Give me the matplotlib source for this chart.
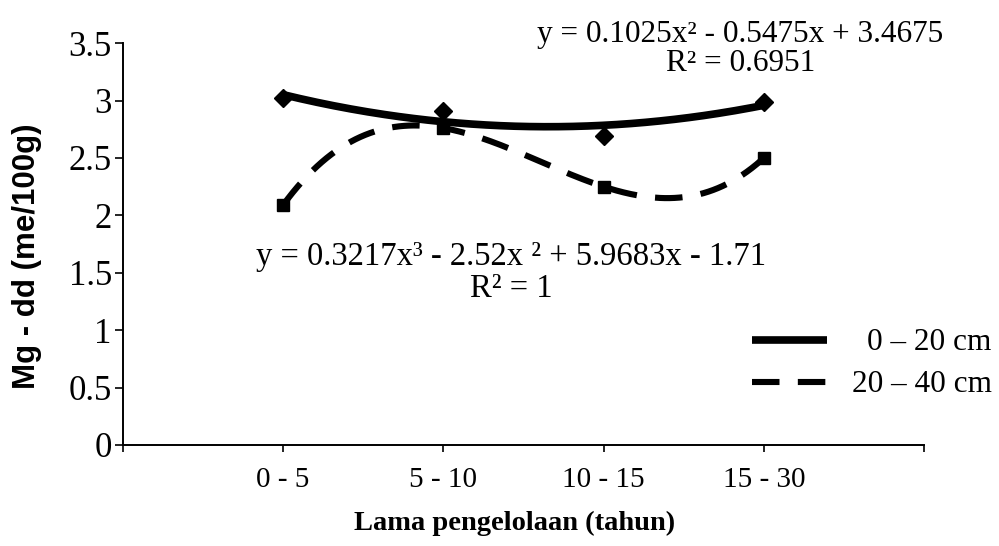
import numpy as np
import matplotlib
matplotlib.use("Agg")
import matplotlib.pyplot as plt
from matplotlib.lines import Line2D

# data
categories = ["0 - 5", "5 - 10", "10 - 15", "15 - 30"]
mg_0_20 = [3.02, 2.91, 2.69, 2.99]
mg_20_40 = [2.09, 2.76, 2.25, 2.50]
eq_0_20 = "y = 0.1025x\u00b2 - 0.5475x + 3.4675\nR\u00b2 = 0.6951"
eq_20_40 = "y = 0.3217x\u00b3 - 2.52x \u00b2 + 5.9683x - 1.71\nR\u00b2 = 1"

serif = "Liberation Serif"
sans = "Liberation Sans"
dash = (0, (4.5, 3.0))

x = np.arange(1, len(categories) + 1)

fig = plt.figure(figsize=(9.99, 5.46), dpi=100)
ax = fig.add_axes([0.123, 0.185, 0.802, 0.736])

# trendlines (polynomial fits of the points)
xs = np.linspace(1, 4, 200)
fit2 = np.polyfit(x, mg_0_20, 2)
fit3 = np.polyfit(x, mg_20_40, 3)
ax.plot(xs, np.polyval(fit2, xs), color="black", lw=5.5, solid_capstyle="butt")
ax.plot(xs, np.polyval(fit3, xs), color="black", lw=4.4, linestyle=dash, dash_capstyle="butt")

# data points
ax.plot(x, mg_0_20, linestyle="none", marker="D", ms=9, color="black")
ax.plot(x, mg_20_40, linestyle="none", marker="s", ms=9, color="black")

ax.set_xlim(0, 5)
ax.set_ylim(0, 3.5)
ax.set_xticks([0, 1, 2, 3, 4, 5])
ax.set_xticklabels([""] + categories + [""], fontfamily=serif, fontsize=21)
ax.set_yticks(np.arange(0, 3.51, 0.5))
ax.set_yticklabels(["0", "0.5", "1", "1.5", "2", "2.5", "3", "3.5"], fontfamily=serif, fontsize=25)
ax.tick_params(axis="x", direction="out", length=5, width=1.2, pad=11)
ax.tick_params(axis="y", direction="out", length=6, width=1.2, pad=2)

for s in ["top", "right"]:
    ax.spines[s].set_visible(False)
for s in ["left", "bottom"]:
    ax.spines[s].set_linewidth(1.4)

ax.set_xlabel("Lama pengelolaan (tahun)", fontfamily=serif, fontweight="bold", fontsize=20.5)
ax.xaxis.set_label_coords(0.489, -0.163)
ax.set_ylabel("Mg - dd (me/100g)", fontfamily=sans, fontweight="bold", fontsize=22.5)
ax.yaxis.set_label_coords(-0.101, 0.47)

# trendline equations
fig.text(0.741, 0.911, eq_0_20, ha="center", va="center", fontfamily=serif, fontsize=22.5,
         linespacing=1.0)
fig.text(0.512, 0.500, eq_20_40, ha="center", va="center", fontfamily=serif, fontsize=23.5,
         linespacing=1.05)

# legend, two entries with the text flush right
h1 = Line2D([], [], color="black", lw=5.5, solid_capstyle="butt")
h2 = Line2D([], [], color="black", lw=4.4, linestyle=dash, dash_capstyle="butt")
common = dict(loc="center left", frameon=False, prop={"family": serif, "size": 22.5},
              handlelength=2.4, borderpad=0, borderaxespad=0)
fig.legend([h1], ["0 \u2013 20 cm"], bbox_to_anchor=(752 / 999, 1 - 343 / 546),
           handletextpad=1.28, **common)
fig.legend([h2], ["20 \u2013 40 cm"], bbox_to_anchor=(752 / 999, 1 - 385 / 546),
           handletextpad=0.8, **common)

fig.savefig("out.png", dpi=100)
